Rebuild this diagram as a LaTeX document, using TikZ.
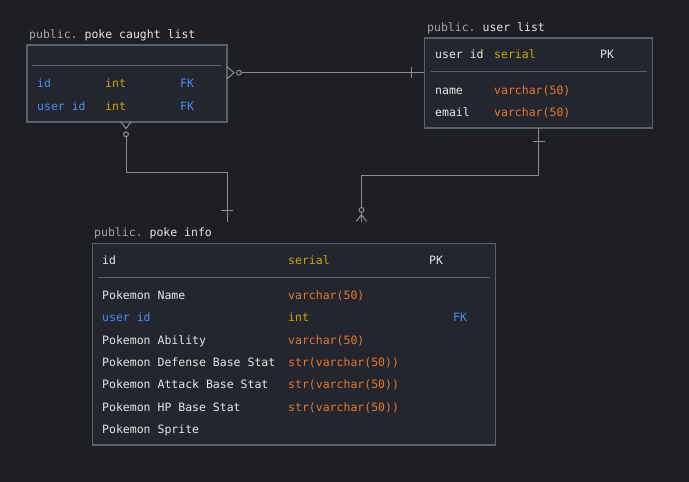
\documentclass[tikz,border=0pt]{standalone}
\usepackage{fontspec}
\setmonofont{DejaVu Sans Mono}
\usepackage{tikz}
\usepackage{xcolor}
\usetikzlibrary{positioning}

\definecolor{bg}{HTML}{1E1F24}
\definecolor{boxfill}{HTML}{23262E}
\definecolor{boxline}{HTML}{5C6069}
\definecolor{fg}{HTML}{E6E6E6}
\definecolor{dim}{HTML}{A3A3A8}
\definecolor{ylw}{HTML}{CCA700}
\definecolor{orng}{HTML}{E8782A}
\definecolor{blu}{HTML}{4C8BF5}
\definecolor{wire}{HTML}{8A8D94}

\tikzset{
	tbl/.style={rectangle, draw=boxline, fill=boxfill, line width=1.6pt, inner sep=0pt},
	txt/.style={anchor=base west, inner sep=0pt, font=\ttfamily\fontsize{11.5}{14}\selectfont, text=fg},
	sepline/.style={draw=boxline, line width=1.2pt},
	wire/.style={draw=wire, line width=1pt},
}

\begin{document}
\begin{tikzpicture}[x=1pt, y=-1pt]
	\fill[bg] (0,0) rectangle (689,482);

	% tables
	\node[tbl, minimum width=200pt, minimum height=77pt] (pcl) at (127,83.2) {};
	\node[tbl, minimum width=228pt, minimum height=90.5pt] (ul) at (538.5,83) {};
	\node[tbl, minimum width=403pt, minimum height=201.5pt] (pi) at (294,344.2) {};

	\draw[sepline] (32,65.3) -- (221,65.3);
	\draw[sepline] (431,71.7) -- (647,71.7);
	\draw[sepline] (98,277.3) -- (490,277.3);

	% poke caught list
	\node[txt] (pcl-t) at (29,38) {{\color{dim}public.} poke caught list};
	\node[txt, text=blu] (pcl-id) at (37,87.3) {id};
	\node[txt, text=ylw] (pcl-idt) at (105,87.3) {int};
	\node[txt, text=blu] (pcl-idk) at (180,87.3) {FK};
	\node[txt, text=blu] (pcl-uid) at (37,110) {user id};
	\node[txt, text=ylw] (pcl-uidt) at (105,110) {int};
	\node[txt, text=blu] (pcl-uidk) at (180,110) {FK};

	% user list
	\node[txt] (ul-t) at (427,31.5) {{\color{dim}public.} user list};
	\node[txt] (ul-uid) at (435,58) {user id};
	\node[txt, text=ylw] (ul-uidt) at (494,58) {serial};
	\node[txt] (ul-uidk) at (600,58) {PK};
	\node[txt] (ul-name) at (435,94) {name};
	\node[txt, text=orng] (ul-namet) at (494,94) {varchar(50)};
	\node[txt] (ul-mail) at (435,116) {email};
	\node[txt, text=orng] (ul-mailt) at (494,116) {varchar(50)};

	% poke info
	\node[txt] (pi-t) at (94,236) {{\color{dim}public.} poke info};
	\node[txt] (pi-id) at (102,264) {id};
	\node[txt, text=ylw] (pi-idt) at (288,264) {serial};
	\node[txt] (pi-idk) at (429,264) {PK};
	\node[txt] (pi-name) at (102,299) {Pokemon Name};
	\node[txt, text=orng] (pi-namet) at (288,299) {varchar(50)};
	\node[txt, text=blu] (pi-uid) at (102,321) {user id};
	\node[txt, text=ylw] (pi-uidt) at (288,321) {int};
	\node[txt, text=blu] (pi-uidk) at (453,321) {FK};
	\node[txt] (pi-abl) at (102,344) {Pokemon Ability};
	\node[txt, text=orng] (pi-ablt) at (288,344) {varchar(50)};
	\node[txt] (pi-def) at (102,366) {Pokemon Defense Base Stat};
	\node[txt, text=orng] (pi-deft) at (288,366) {str(varchar(50))};
	\node[txt] (pi-atk) at (102,388) {Pokemon Attack Base Stat};
	\node[txt, text=orng] (pi-atkt) at (288,388) {str(varchar(50))};
	\node[txt] (pi-hp) at (102,411) {Pokemon HP Base Stat};
	\node[txt, text=orng] (pi-hpt) at (288,411) {str(varchar(50))};
	\node[txt] (pi-spr) at (102,433) {Pokemon Sprite};

	% connector ends
	\coordinate (a1) at (227,72.7);
	\coordinate (a2) at (424.3,72.7);
	\coordinate (b1) at (126,121.7);
	\coordinate (b2) at (227,221.5);
	\coordinate (c1) at (538.7,128.3);
	\coordinate (c2) at (361.5,221.5);

	% poke caught list -- user list
	\draw[wire] (a1) ++(0,-6) -- ++(7,6) -- ++(-7,6);
	\draw[wire] (a1) ++(12,0) circle (2.4pt);
	\draw[wire] (a1) ++(14.4,0) -- (a2);
	\draw[wire] (a2) ++(-12.5,-5.5) -- ++(0,11);

	% poke caught list -- poke info
	\draw[wire] (b1) ++(-5,0) -- ++(5,7) -- ++(5,-7);
	\draw[wire] (b1) ++(0,12.6) circle (2.4pt);
	\draw[wire] (b1) ++(0,15) |- (227,172.3) -- (b2);
	\draw[wire] (b2) ++(-6,-11.5) -- ++(12,0);

	% user list -- poke info
	\draw[wire] (c1) -- (538.7,175.7) -| (361.5,207.1);
	\draw[wire] (c1) ++(-6,12.7) -- ++(12,0);
	\draw[wire] (c2) ++(0,-11.6) circle (2.4pt);
	\draw[wire] (c2) ++(0,-9.2) -- (c2);
	\draw[wire] (c2) ++(-5,0) -- ++(5,-7) -- ++(5,7);
\end{tikzpicture}
\end{document}
